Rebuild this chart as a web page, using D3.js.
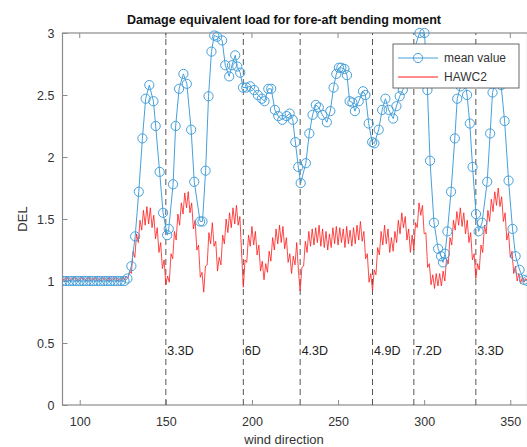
<!DOCTYPE html>
<html>
<head>
<meta charset="utf-8">
<script src="https://cdn.jsdelivr.net/npm/d3@7"></script>
<style>
  body { margin: 0; background: #fff; }
  svg { font-family: "Liberation Sans", Arial, sans-serif; }
</style>
</head>
<body>
<div id="chart"></div>
<script>
// Damage equivalent load: measured mean value vs HAWC2 simulation

// mean value (blue markers) - wind direction / DEL
const meanDir = [
  90, 92, 94, 96, 98, 100, 102, 104, 106, 108, 110, 112, 114, 116, 118, 120, 122, 124, 126,
  127.7, 130.0, 132.2, 134.3, 136.4, 138.3, 140.4, 142.8, 144.1, 146.4, 148.4, 150.8, 151.7,
  154.2, 155.7, 157.7, 160.2, 162.2, 164.7, 166.5, 169.9, 171.3, 173.1, 174.8, 176.5, 178.1,
  179.8, 182.7, 184.5, 186.8, 188.4, 190.3, 191.5, 193.2, 194.8, 196.7, 199.0, 201.3, 203.4,
  205.8, 207.3, 209.5, 211.2, 213.3, 215.3, 217.6, 220.2, 221.9, 223.7, 225.2, 226.9, 228.3,
  231.3, 233.3, 235.2, 237.1, 238.8, 240.9, 243.5, 245.5, 247.4, 249.0, 250.5, 251.9, 253.7,
  255.2, 256.7, 258.3, 259.8, 262.0, 264.5, 265.9, 267.8, 269.8, 271.1, 273.6, 275.6, 277.5,
  279.4, 282.0, 283.9, 285.8, 287.6, 290.9, 293.8, 297.3, 300.2, 301.9, 303.4, 305.7, 308.1,
  309.8, 310.9, 312.1, 313.5, 315.6, 317.8, 319.2, 321.1, 322.8, 324.9, 326.5, 328.1, 330.1,
  331.6, 333.6, 336.6, 338.3, 339.7, 342.0, 344.7, 346.7, 349.0, 351.3, 353.1, 355.4, 357.9, 359.9
];
const meanDel = [
  1.0, 1.0, 1.0, 1.0, 1.0, 1.0, 1.0, 1.0, 1.0, 1.0, 1.0, 1.0, 1.0, 1.0, 1.0, 1.0, 1.0, 1.0, 1.0,
  1.02, 1.12, 1.36, 1.72, 2.15, 2.47, 2.58, 2.45, 2.25, 1.88, 1.55, 1.37, 1.42,
  1.78, 2.25, 2.55, 2.67, 2.59, 2.22, 1.80, 1.48, 1.48, 1.89, 2.49, 2.85, 2.98,
  2.97, 2.94, 2.74, 2.65, 2.74, 2.82, 2.73, 2.68, 2.56, 2.56, 2.57, 2.54, 2.50,
  2.47, 2.45, 2.55, 2.55, 2.38, 2.33, 2.30, 2.33, 2.35, 2.30, 2.12, 1.92, 1.79,
  1.95, 2.19, 2.34, 2.42, 2.40, 2.34, 2.28, 2.37, 2.56, 2.67, 2.72, 2.72, 2.71,
  2.66, 2.45, 2.44, 2.37, 2.45, 2.53, 2.50, 2.27, 2.12, 2.11, 2.22, 2.38, 2.47,
  2.38, 2.31, 2.41, 2.49, 2.54, 2.70, 2.85, 3.0, 3.0, 2.54, 1.97, 1.47, 1.26,
  1.20, 1.15, 1.22, 1.40, 1.72, 2.15, 2.47, 2.57, 2.68, 2.50, 2.27, 1.92, 1.54,
  1.40, 1.47, 1.80, 2.19, 2.52, 2.65, 2.58, 2.29, 1.81, 1.42, 1.20, 1.09, 1.01, 1.0
];

// HAWC2 (red line) - one value per degree from 90 to 360
const hawcStart = 90;
const hawcDel = [
  1.00, 1.02, 1.00, 1.03, 1.00, 1.02, 1.01, 1.03, 1.00, 1.02,
  1.00, 1.03, 1.01, 1.02, 1.00, 1.03, 1.00, 1.02, 1.01, 1.03,
  1.00, 1.02, 1.00, 1.03, 1.01, 1.02, 1.00, 1.03, 1.00, 1.02,
  1.01, 1.03, 1.00, 1.02, 1.00, 1.03, 1.01, 1.04, 1.02, 1.08,
  1.06, 1.24, 1.19, 1.38, 1.31, 1.49, 1.41, 1.57, 1.45, 1.60,
  1.46, 1.59, 1.43, 1.53, 1.34, 1.43, 1.23, 1.31, 1.10, 1.17,
  0.97, 1.04, 0.99, 1.22, 1.18, 1.40, 1.33, 1.54, 1.45, 1.63,
  1.54, 1.71, 1.59, 1.72, 1.55, 1.63, 1.42, 1.49, 1.25, 1.29,
  1.03, 1.07, 0.91, 1.12, 1.13, 1.39, 1.30, 1.47, 1.28, 1.32,
  1.08, 1.19, 1.13, 1.37, 1.30, 1.50, 1.39, 1.55, 1.43, 1.59,
  1.46, 1.61, 1.45, 1.52, 1.22, 0.95, 1.17, 1.15, 1.37, 1.28,
  1.44, 1.29, 1.40, 1.21, 1.29, 1.08, 1.16, 1.01, 1.14, 1.07,
  1.24, 1.16, 1.35, 1.25, 1.42, 1.30, 1.45, 1.31, 1.44, 1.26,
  1.35, 1.15, 1.22, 1.06, 1.20, 1.13, 1.31, 1.08, 0.92, 1.11,
  1.12, 1.32, 1.23, 1.40, 1.28, 1.42, 1.29, 1.43, 1.31, 1.45,
  1.28, 1.42, 1.27, 1.40, 1.25, 1.38, 1.27, 1.43, 1.30, 1.44,
  1.29, 1.43, 1.31, 1.42, 1.27, 1.44, 1.30, 1.41, 1.28, 1.43,
  1.30, 1.45, 1.33, 1.48, 1.32, 1.40, 1.18, 1.22, 0.99, 1.06,
  0.92, 1.09, 1.05, 1.27, 1.21, 1.40, 1.29, 1.45, 1.30, 1.42,
  1.23, 1.35, 1.24, 1.40, 1.31, 1.49, 1.38, 1.55, 1.43, 1.52,
  1.33, 1.42, 1.23, 1.37, 1.25, 1.47, 1.43, 1.63, 1.53, 1.61,
  1.38, 1.39, 1.11, 1.14, 0.97, 1.05, 0.94, 1.06, 0.96, 1.06,
  0.96, 1.08, 1.00, 1.18, 1.14, 1.35, 1.29, 1.49, 1.41, 1.56,
  1.45, 1.59, 1.44, 1.55, 1.38, 1.49, 1.31, 1.39, 1.17, 1.22,
  1.02, 1.14, 1.09, 1.29, 1.23, 1.45, 1.38, 1.57, 1.48, 1.66,
  1.56, 1.72, 1.61, 1.75, 1.60, 1.68, 1.48, 1.55, 1.33, 1.39,
  1.19, 1.24, 1.06, 1.12, 1.00, 1.06, 0.98, 1.03, 0.99, 1.02, 1.00
];

// dashed reference directions and their labels
const refDirs = [150, 195, 228, 270, 294, 330];
const refLabels = ['3.3D', '6D', '4.3D', '4.9D', '7.2D', '3.3D'];

const xTicks = [100, 150, 200, 250, 300, 350];
const yTicks = [0, 0.5, 1, 1.5, 2, 2.5, 3];

const width = 527, height = 447;
const margin = { left: 62.5, right: 0, top: 33, bottom: 42 };

const x = d3.scaleLinear().domain([90, 360]).range([margin.left, 527.5]);
const y = d3.scaleLinear().domain([0, 3]).range([height - margin.bottom, margin.top]);

const blue = '#46a0da';
const axisGrey = '#8c8c8c';
const textGrey = '#333';

const svg = d3.select('#chart').append('svg')
  .attr('width', width).attr('height', height)
  .attr('viewBox', `0 0 ${width} ${height}`);

svg.append('defs').append('clipPath').attr('id', 'plotclip')
  .append('rect')
  .attr('x', x(90)).attr('y', y(3) - 6)
  .attr('width', x(360) - x(90) + 6).attr('height', y(0) - y(3) + 6);

// box
svg.append('rect')
  .attr('x', x(90)).attr('y', y(3))
  .attr('width', x(360) - x(90)).attr('height', y(0) - y(3))
  .attr('fill', '#fff').attr('stroke', axisGrey).attr('stroke-width', 1.2);

// bottom axis with inward ticks
const xAxis = svg.append('g').attr('transform', `translate(0,${y(0)})`)
  .call(d3.axisBottom(x).tickValues(xTicks).tickSize(-5).tickPadding(12).tickFormat(d3.format('d')));
xAxis.select('.domain').remove();
xAxis.selectAll('line').attr('stroke', axisGrey);
xAxis.selectAll('text').attr('font-size', 12.5).attr('fill', textGrey);

// top ticks
svg.append('g').selectAll('line').data(xTicks).join('line')
  .attr('x1', (d) => x(d)).attr('x2', (d) => x(d))
  .attr('y1', y(3)).attr('y2', y(3) + 5)
  .attr('stroke', axisGrey);

// left axis
const yAxis = svg.append('g').attr('transform', `translate(${x(90)},0)`)
  .call(d3.axisLeft(y).tickValues(yTicks).tickSize(-5).tickPadding(8).tickFormat((d) => String(d)));
yAxis.select('.domain').remove();
yAxis.selectAll('line').attr('stroke', axisGrey);
yAxis.selectAll('text').attr('font-size', 12.5).attr('fill', textGrey);

const plot = svg.append('g').attr('clip-path', 'url(#plotclip)');

// dashed reference lines
plot.selectAll('line.ref').data(refDirs).join('line')
  .attr('class', 'ref')
  .attr('x1', (d) => x(d)).attr('x2', (d) => x(d))
  .attr('y1', y(0)).attr('y2', y(3))
  .attr('stroke', '#555').attr('stroke-width', 1)
  .attr('stroke-dasharray', '6,4');

// HAWC2 line
const hawcData = hawcDel.map((v, i) => [hawcStart + i, v]);
plot.append('path')
  .datum(hawcData)
  .attr('fill', 'none')
  .attr('stroke', '#ff1a1a')
  .attr('stroke-width', 0.8)
  .attr('d', d3.line().x((d) => x(d[0])).y((d) => y(d[1])));

// mean value line + markers
const meanData = meanDir.map((d, i) => [d, meanDel[i]]);
plot.append('path')
  .datum(meanData)
  .attr('fill', 'none')
  .attr('stroke', blue)
  .attr('stroke-width', 1)
  .attr('d', d3.line().x((d) => x(d[0])).y((d) => y(d[1])));

plot.selectAll('circle.mean').data(meanData).join('circle')
  .attr('class', 'mean')
  .attr('cx', (d) => x(d[0])).attr('cy', (d) => y(d[1]))
  .attr('r', 4.6)
  .attr('fill', 'none').attr('stroke', blue).attr('stroke-width', 1);

// reference labels
svg.selectAll('text.reflabel').data(refDirs).join('text')
  .attr('class', 'reflabel')
  .attr('x', (d) => x(d) + 1.5).attr('y', y(0.4))
  .attr('font-size', 12.5).attr('fill', '#222')
  .text((d, i) => refLabels[i]);

// title & axis labels
svg.append('text')
  .attr('x', 284).attr('y', 24)
  .attr('text-anchor', 'middle').attr('font-size', 12.5).attr('font-weight', 'bold')
  .attr('fill', '#111')
  .text('Damage equivalent load for fore-aft bending moment');

svg.append('text')
  .attr('x', 284).attr('y', 444)
  .attr('text-anchor', 'middle').attr('font-size', 13).attr('fill', textGrey)
  .text('wind direction');

svg.append('text')
  .attr('transform', `translate(27,${y(1.5)}) rotate(-90)`)
  .attr('text-anchor', 'middle').attr('font-size', 13).attr('fill', textGrey)
  .text('DEL');

// legend
const lg = svg.append('g').attr('transform', 'translate(393,44)');
lg.append('rect').attr('width', 126).attr('height', 44)
  .attr('fill', '#fff').attr('stroke', '#444').attr('stroke-width', 0.8);
lg.append('line').attr('x1', 5).attr('x2', 45).attr('y1', 14).attr('y2', 14)
  .attr('stroke', blue).attr('stroke-width', 1);
lg.append('circle').attr('cx', 25).attr('cy', 14).attr('r', 4.6)
  .attr('fill', 'none').attr('stroke', blue);
lg.append('text').attr('x', 51).attr('y', 18).attr('font-size', 12).attr('fill', textGrey).text('mean value');
lg.append('line').attr('x1', 5).attr('x2', 45).attr('y1', 33).attr('y2', 33)
  .attr('stroke', '#ff1a1a').attr('stroke-width', 1);
lg.append('text').attr('x', 51).attr('y', 37).attr('font-size', 12).attr('fill', textGrey).text('HAWC2');
</script>
</body>
</html>
